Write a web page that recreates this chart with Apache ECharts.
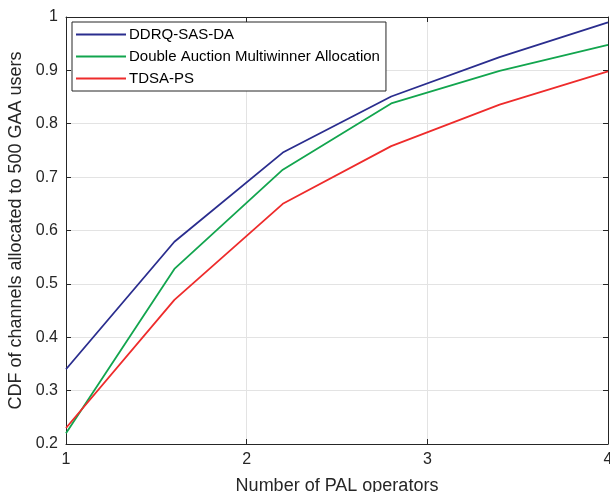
<!DOCTYPE html>
<html>
<head>
<meta charset="utf-8">
<script src="https://cdn.jsdelivr.net/npm/echarts@6/dist/echarts.min.js"></script>
<style>
  html, body { margin: 0; padding: 0; background: #fff; }
  #chart { width: 610px; height: 492px; }
</style>
</head>
<body>
<div id="chart"></div>
<script>
// Number of PAL operators (x) and CDF values for each allocation scheme
const operators = [1, 1.6, 2.2, 2.8, 3.4, 4];
const ddrqSasDa = [0.34, 0.579, 0.746, 0.851, 0.925, 0.99];
const doubleAuction = [0.22, 0.528, 0.714, 0.838, 0.899, 0.948];
const tdsaPs = [0.23, 0.47, 0.65, 0.758, 0.836, 0.898];
const seriesNames = ['DDRQ-SAS-DA', 'Double Auction Multiwinner Allocation', 'TDSA-PS'];
const seriesColors = ['#2a2d8e', '#12a54e', '#ee2b2b'];

const toPairs = (ys) => operators.map((x, i) => [x, ys[i]]);

const FONT = 'Liberation Sans, Arial, sans-serif';
const axisLine = { show: true, lineStyle: { color: '#262626', width: 1 } };
const tickStyle = { show: true, inside: true, length: 5, lineStyle: { color: '#262626' } };
const gridLine = { show: true, lineStyle: { color: '#e3e3e3', width: 1 } };
const labelFont = { color: '#262626', fontSize: 16, fontFamily: FONT };
const nameFont = { color: '#262626', fontSize: 18, fontFamily: FONT };

const chart = echarts.init(document.getElementById('chart'), null, { renderer: 'canvas' });
chart.setOption({
  animation: false,
  backgroundColor: '#ffffff',
  grid: { left: 66, right: 2, top: 17, bottom: 48, containLabel: false, outerBoundsMode: 'none' },
  legend: {
    left: 72, top: 22,
    orient: 'vertical',
    backgroundColor: '#ffffff',
    borderColor: '#262626', borderWidth: 1,
    padding: [5, 6, 5, 4],
    itemGap: 7,
    itemWidth: 50, itemHeight: 2,
    icon: 'rect',
    textStyle: { color: '#000', fontSize: 15, fontFamily: FONT, padding: [0, 0, 0, -2] },
    data: seriesNames
  },
  xAxis: [
    {
      type: 'value', min: 1, max: 4, interval: 1,
      name: 'Number of PAL operators', nameLocation: 'middle', nameGap: 33,
      nameTextStyle: nameFont,
      axisLine, axisTick: tickStyle, splitLine: gridLine,
      axisLabel: Object.assign({ margin: 8 }, labelFont)
    },
    {
      type: 'value', position: 'top', min: 1, max: 4, interval: 1,
      axisLine, axisTick: tickStyle, splitLine: { show: false }, axisLabel: { show: false }
    }
  ],
  yAxis: [
    {
      type: 'value', min: 0.2, max: 1, interval: 0.1,
      name: 'CDF of channels allocated to 500 GAA users', nameLocation: 'middle', nameGap: 36,
      nameTextStyle: nameFont,
      axisLine, axisTick: tickStyle, splitLine: gridLine,
      axisLabel: Object.assign({ margin: 8, formatter: (v) => String(Math.round(v * 10) / 10) }, labelFont)
    },
    {
      type: 'value', position: 'right', min: 0.2, max: 1, interval: 0.1,
      axisLine, axisTick: tickStyle, splitLine: { show: false }, axisLabel: { show: false }
    }
  ],
  series: [ddrqSasDa, doubleAuction, tdsaPs].map((ys, i) => ({
    name: seriesNames[i],
    type: 'line',
    data: toPairs(ys),
    showSymbol: false,
    symbol: 'none',
    color: seriesColors[i],
    lineStyle: { width: 1.8, color: seriesColors[i] },
    z: 3 + i
  }))
});
</script>
</body>
</html>
